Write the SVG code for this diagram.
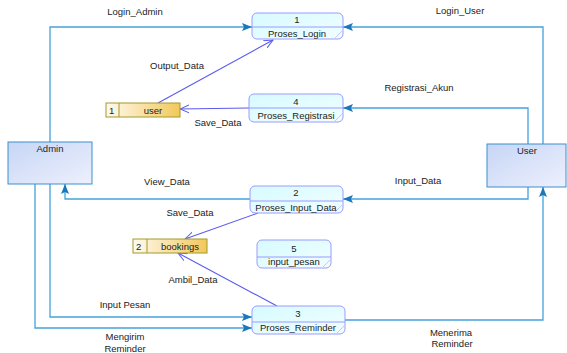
<svg xmlns="http://www.w3.org/2000/svg" width="567" height="353" viewBox="0 0 567 353">
<defs>
<linearGradient id="gProc" x1="0" y1="0" x2="1" y2="1"><stop offset="0" stop-color="#d6fbff"/><stop offset="1" stop-color="#f2feff"/></linearGradient>
<linearGradient id="gStore" x1="0" y1="0" x2="1" y2="0"><stop offset="0" stop-color="#fffaf0"/><stop offset="1" stop-color="#f2c85a"/></linearGradient>
<linearGradient id="gExt" x1="0" y1="0" x2="1" y2="1"><stop offset="0" stop-color="#c6d6f5"/><stop offset="1" stop-color="#eef0fd"/></linearGradient>
<marker id="aExt" viewBox="0 0 10 8" refX="10" refY="4" markerWidth="10" markerHeight="8" markerUnits="userSpaceOnUse" orient="auto"><path d="M0,0 L10,4 L0,8 L2,4 Z" fill="#1878bb"/></marker>
<marker id="aStore" viewBox="0 0 10 10" refX="9" refY="5" markerWidth="10" markerHeight="10" markerUnits="userSpaceOnUse" orient="auto"><path d="M0,1 L9,5 L0,9" fill="none" stroke="#5a5af0" stroke-width="1"/></marker>
<style>
text{font-family:"Liberation Sans",Arial,sans-serif;font-size:9.5px;fill:#222}
.c{text-anchor:middle}
.proc rect{fill:url(#gProc);stroke:#9a9aff;stroke-width:1}
.proc line{stroke:#9a9aff;stroke-width:1}
.proc .grip{stroke:#b8b8ff;stroke-width:0.8}
.store rect{fill:url(#gStore);stroke:#a39a2a;stroke-width:1}
.store line{stroke:#a39a2a;stroke-width:1}
.ext rect{fill:url(#gExt);stroke:#3a8fd0;stroke-width:1}
.fe{fill:none;stroke:#45a2dc;stroke-width:1.3;marker-end:url(#aExt)}
.fs{fill:none;stroke:#5a5af0;stroke-width:1.1;marker-end:url(#aStore)}
</style>
</defs>
<rect width="567" height="353" fill="#ffffff"/>

<g id="connectors">
<path class="fe" d="M50,142 V27 H252"/>
<path class="fe" d="M543,144 V27 H343"/>
<path class="fe" d="M528,144 V108 H343"/>
<path class="fe" d="M528,187 V199 H343"/>
<path class="fe" d="M250,199 H65 V184"/>
<path class="fe" d="M50,184 V317 H252"/>
<path class="fe" d="M35,184 V328 H252"/>
<path class="fe" d="M345,320 H543 V187"/>
<path class="fs" d="M158,103 L273,40"/>
<path class="fs" d="M249,108 L180,109"/>
<path class="fs" d="M258,213 L185,239"/>
<path class="fs" d="M277,306 L178,253"/>
</g>

<g id="labels">
<text class="c" x="135" y="15">Login_Admin</text>
<text class="c" x="460" y="14">Login_User</text>
<text class="c" x="177" y="69">Output_Data</text>
<text class="c" x="419" y="91">Registrasi_Akun</text>
<text class="c" x="218" y="126">Save_Data</text>
<text class="c" x="167" y="185">View_Data</text>
<text class="c" x="418" y="184">Input_Data</text>
<text class="c" x="190" y="216">Save_Data</text>
<text class="c" x="193" y="283">Ambil_Data</text>
<text class="c" x="125" y="308">Input Pesan</text>
<text class="c" x="125" y="340">Mengirim</text>
<text class="c" x="125" y="352">Reminder</text>
<text class="c" x="451" y="336">Menerima</text>
<text class="c" x="452" y="347">Reminder</text>
</g>

<g id="admin" class="ext"><rect x="8" y="142" width="84" height="42"/><text class="c" x="50" y="152">Admin</text></g>
<g id="user-ext" class="ext"><rect x="487" y="144" width="79" height="43"/><text class="c" x="527" y="154">User</text></g>

<g id="p1" class="proc"><rect x="252" y="13" width="91" height="26" rx="5"/><line x1="252" y1="27" x2="343" y2="27"/><line class="grip" x1="335" y1="38" x2="342" y2="31"/><text class="c" x="297" y="23">1</text><text class="c" x="297" y="37">Proses_Login</text></g>
<g id="p4" class="proc"><rect x="249" y="94" width="94" height="28" rx="5"/><line x1="249" y1="108" x2="343" y2="108"/><line class="grip" x1="335" y1="121" x2="342" y2="114"/><text class="c" x="296" y="105">4</text><text class="c" x="296" y="119">Proses_Registrasi</text></g>
<g id="p2" class="proc"><rect x="250" y="186" width="93" height="27" rx="5"/><line x1="250" y1="201" x2="343" y2="201"/><line class="grip" x1="335" y1="212" x2="342" y2="205"/><text class="c" x="296" y="196">2</text><text class="c" x="296" y="211">Proses_Input_Data</text></g>
<g id="p5" class="proc"><rect x="257" y="240" width="74" height="28" rx="5"/><line x1="257" y1="257" x2="331" y2="257"/><line class="grip" x1="323" y1="267" x2="330" y2="260"/><text class="c" x="294" y="252">5</text><text class="c" x="294" y="265">input_pesan</text></g>
<g id="p3" class="proc"><rect x="252" y="306" width="93" height="28" rx="5"/><line x1="252" y1="322" x2="345" y2="322"/><line class="grip" x1="337" y1="333" x2="344" y2="326"/><text class="c" x="298" y="317">3</text><text class="c" x="298" y="331">Proses_Reminder</text></g>

<g id="store-user" class="store"><rect x="106" y="103" width="74" height="14"/><line x1="119" y1="103" x2="119" y2="117"/><text x="109" y="114">1</text><text class="c" x="153" y="114">user</text></g>
<g id="store-bookings" class="store"><rect x="133" y="239" width="74" height="14"/><line x1="147" y1="239" x2="147" y2="253"/><text x="136" y="250">2</text><text class="c" x="180" y="250">bookings</text></g>
</svg>
